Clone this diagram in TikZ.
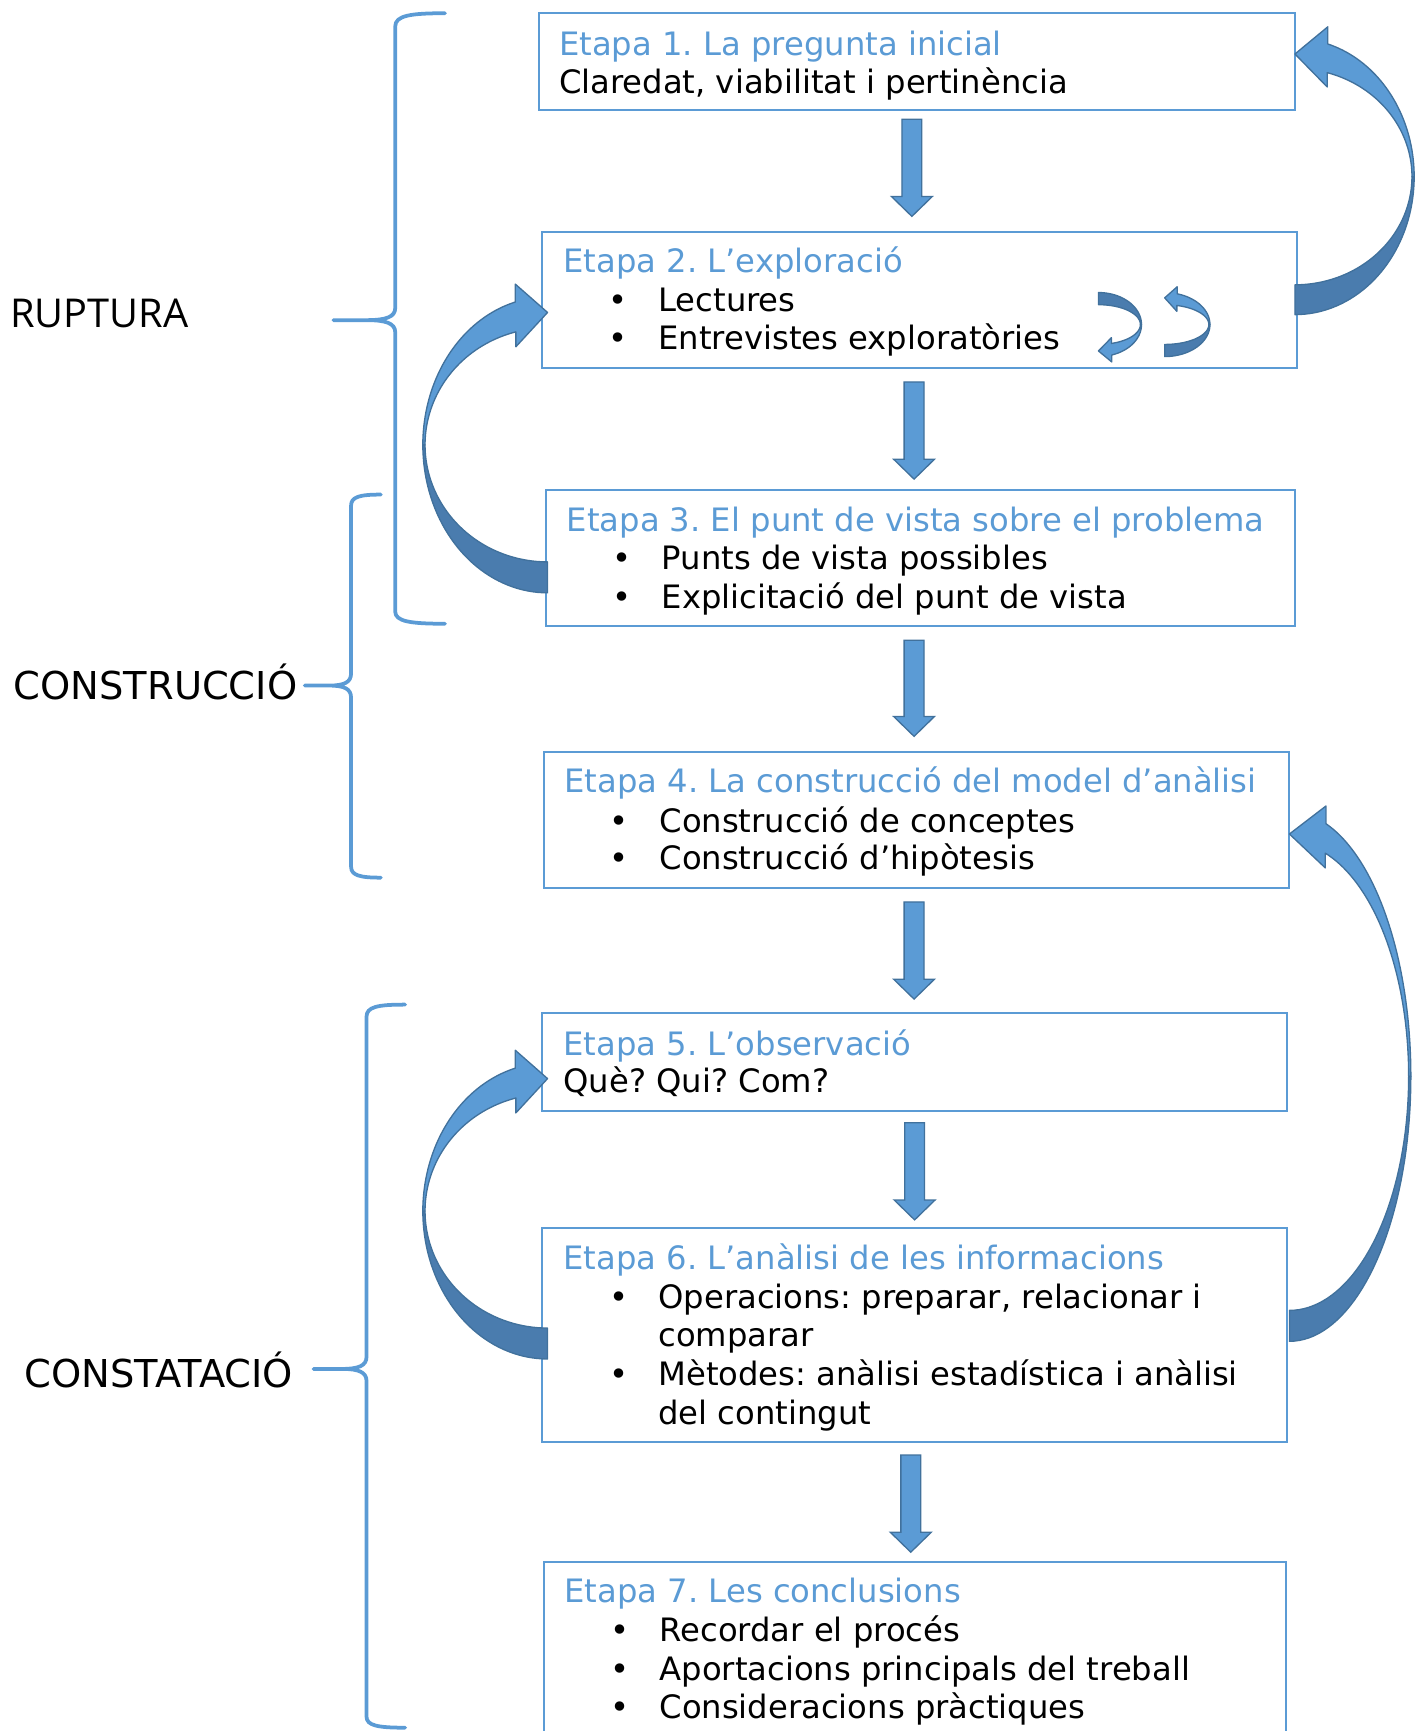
\documentclass[tikz,border=0pt]{standalone}
\usepackage{fontspec}
\setmainfont{DejaVu Sans}
\newfontfamily\labelfont{Open Sans}
\usetikzlibrary{calc}
\definecolor{accent}{HTML}{5B9BD5}
\definecolor{accentdark}{HTML}{41719C}
\definecolor{ribdark}{HTML}{4A7CAE}
\frenchspacing

\newcommand{\ribbonarrow}[9]{%
  \pgfmathsetmacro{\rCa}{cos(#9)}%
  \pgfmathsetmacro{\rSa}{sin(#9)}%
  \pgfmathsetmacro{\rPox}{#1+(#3)*(#5)*\rCa}%
  \pgfmathsetmacro{\rPoy}{#2-(#4)*(#6)*\rSa}%
  \pgfmathsetmacro{\rPix}{#1+(#3)*(#7)*\rCa}%
  \pgfmathsetmacro{\rPiy}{#2-(#4)*(#8)*\rSa}%
  \pgfmathsetmacro{\rBw}{abs(\rPiy-\rPoy)}%
  \pgfmathsetmacro{\rBoy}{\rPoy-(#4)*0.6*\rBw}%
  \pgfmathsetmacro{\rBiy}{\rPiy+(#4)*0.5*\rBw}%
  \pgfmathsetmacro{\rTy}{(\rPoy+\rPiy)/2-(#4)*0.15*\rBw}%
  \filldraw[ribbondark] plot[domain=90:0,samples=40,variable=\t] ({#1+(#3)*(#5)*cos(\t)},{#2+(#4)*(#6)*sin(\t)})
     -- plot[domain=0:90,samples=40,variable=\t] ({#1+(#3)*(#7)*cos(\t)},{#2+(#4)*(#8)*sin(\t)}) -- cycle;
  \filldraw[ribbonlight] plot[domain=0:-#9,samples=40,variable=\t] ({#1+(#3)*(#5)*cos(\t)},{#2+(#4)*(#6)*sin(\t)})
     -- (\rPox,\rBoy) -- (#1,\rTy) -- (\rPix,\rBiy)
     -- plot[domain=-#9:0,samples=40,variable=\t] ({#1+(#3)*(#7)*cos(\t)},{#2+(#4)*(#8)*sin(\t)}) -- cycle;
}

\newcommand{\downarr}[5]{% from node, to node, x offset, top gap, bottom gap
  \coordinate (top) at ($(#1.south)+(#3,#4)$);
  \coordinate (bot) at ($(top |- #2.north)+(0,-#5)$);
  \filldraw[blockarrow] ($(top)+(-9,0)$) -- ($(top)+(9,0)$) -- ($(bot)+(9,-18)$) -- ($(bot)+(18.5,-18)$)
     -- (bot) -- ($(bot)+(-18.5,-18)$) -- ($(bot)+(-9,-18)$) -- cycle;
}

\newcommand{\stage}[5]{%
  \node[stagebox, minimum width={(#4-#2)*0.5pt}, minimum height={(#5-#3)*0.5pt}] (#1) at ({(#2+#4)/2},{(#3+#5)/2}) {};
}

\begin{document}
\begin{tikzpicture}[x=0.5pt,y=-0.5pt,
  stagebox/.style={draw=accent, line width=0.9pt, rectangle, inner sep=0pt, outer sep=0pt},
  headtxt/.style={anchor=base west, inner sep=0pt, text=accent, font=\fontsize{14.6}{17.5}\selectfont},
  bodytxt/.style={anchor=base west, inner sep=0pt, text=black, font=\fontsize{14.6}{17.5}\selectfont},
  sidelabel/.style={anchor=base west, inner sep=0pt, text=black, font=\fontsize{17.4}{20}\selectfont},
  bracestyle/.style={draw=accent, line width=1.7pt, line join=round, line cap=round},
  blockarrow/.style={fill=accent, draw=accentdark, line width=0.6pt},
  ribbonlight/.style={fill=accent, draw=accentdark, line width=0.6pt, line join=round},
  ribbondark/.style={fill=ribdark, draw=accentdark, line width=0.6pt, line join=round}]
\useasboundingbox (0,0) rectangle (1288,1568);
\clip (0,0) rectangle (1288,1568);

% boxes
\stage{b1}{488}{12}{1173}{100}
\stage{b2}{491}{210}{1175}{333}
\stage{b3}{495}{444}{1173}{567}
\stage{b4}{493}{681}{1168}{804}
\stage{b5}{491}{918}{1166}{1006}
\stage{b6}{491}{1112}{1166}{1306}
\stage{b7}{493}{1415}{1165}{1610}

% texts
\node[headtxt] (h1) at (506,50) {Etapa 1. La pregunta inicial};
\node[bodytxt] (t1a) at (506,85) {Claredat, viabilitat i pertinència};

\node[headtxt] (h2) at (510,247) {Etapa 2. L’exploració};
\node[bodytxt] (p2a) at (551,282) {•};
\node[bodytxt] (t2a) at (596,282) {Lectures};
\node[bodytxt] (p2b) at (551,317) {•};
\node[bodytxt] (t2b) at (596,317) {Entrevistes exploratòries};

\node[headtxt] (h3) at (513,481) {Etapa 3. El punt de vista sobre el problema};
\node[bodytxt] (p3a) at (554,516) {•};
\node[bodytxt] (t3a) at (599,516) {Punts de vista possibles};
\node[bodytxt] (p3b) at (554,551) {•};
\node[bodytxt] (t3b) at (599,551) {Explicitació del punt de vista};

\node[headtxt] (h4) at (511,718) {Etapa 4. La construcció del model d’anàlisi};
\node[bodytxt] (p4a) at (552,754) {•};
\node[bodytxt] (t4a) at (597,754) {Construcció de conceptes};
\node[bodytxt] (p4b) at (552,788) {•};
\node[bodytxt] (t4b) at (597,788) {Construcció d’hipòtesis};

\node[headtxt] (h5) at (510,956) {Etapa 5. L’observació};
\node[bodytxt] (t5a) at (510,990) {Què? Qui? Com?};

\node[headtxt] (h6) at (510,1150) {Etapa 6. L’anàlisi de les informacions};
\node[bodytxt] (p6a) at (552,1185) {•};
\node[bodytxt] (t6a) at (596,1185) {Operacions: preparar, relacionar i};
\node[bodytxt] (t6b) at (596,1220) {comparar};
\node[bodytxt] (p6b) at (552,1255) {•};
\node[bodytxt] (t6c) at (596,1255) {Mètodes: anàlisi estadística i anàlisi};
\node[bodytxt] (t6d) at (596,1290) {del contingut};

\node[headtxt] (h7) at (511,1452) {Etapa 7. Les conclusions};
\node[bodytxt] (p7a) at (553,1487) {•};
\node[bodytxt] (t7a) at (597,1487) {Recordar el procés};
\node[bodytxt] (p7b) at (553,1522) {•};
\node[bodytxt] (t7b) at (597,1522) {Aportacions principals del treball};
\node[bodytxt] (p7c) at (553,1557) {•};
\node[bodytxt] (t7c) at (597,1557) {Consideracions pràctiques};

% side labels
\node[sidelabel, font=\labelfont\fontsize{18}{21}\selectfont] (lab1) at (9,297) {RUPTURA};
\node[sidelabel] (lab2) at (12,634) {CONSTRUCCIÓ};
\node[sidelabel] (lab3) at (22,1257) {CONSTATACIÓ};

% braces
\draw[bracestyle] (403,12) .. controls (372,12) and (358,14) .. (358,24) -- (358,279)
   .. controls (358,287) and (350,290) .. (332,290) -- (302,290)
   (332,290) .. controls (350,290) and (358,293) .. (358,301) -- (358,554)
   .. controls (358,563) and (372,565) .. (403,565);
\draw[bracestyle] (345,448) .. controls (326,448) and (318,450) .. (318,458) -- (318,610)
   .. controls (318,618) and (312,621) .. (298,621) -- (276,621)
   (298,621) .. controls (312,621) and (318,624) .. (318,632) -- (318,785)
   .. controls (318,793) and (326,795) .. (345,795);
\draw[bracestyle] (367,910) .. controls (342,910) and (332,912) .. (332,921) -- (332,1229)
   .. controls (332,1237) and (325,1240) .. (310,1240) -- (284,1240)
   (310,1240) .. controls (325,1240) and (332,1243) .. (332,1251) -- (332,1555)
   .. controls (332,1563) and (342,1565) .. (367,1565);

% straight arrows
\downarr{b1}{b2}{-4.5}{8}{14}
\downarr{b2}{b3}{-5}{13}{10}
\downarr{b3}{b4}{-6}{13}{14}
\downarr{b4}{b5}{-2.5}{13}{13}
\downarr{b5}{b6}{0}{11}{7}
\downarr{b6}{b7}{-3.5}{12}{9}

% curved arrows
\ribbonarrow{1173}{160}{1}{1}{108}{125}{106}{98}{74}
\ribbonarrow{496}{403}{-1}{1}{113}{134}{111}{106}{75}
\ribbonarrow{496}{1097}{-1}{1}{113}{134}{111}{106}{75}
\ribbonarrow{1168}{975}{1}{1}{110}{240}{108}{212}{72.5}
\ribbonarrow{995}{294}{1}{-1}{39}{29}{38}{18}{72}
\ribbonarrow{1055}{294}{1}{1}{41}{29}{40}{18}{74}
\end{tikzpicture}
\end{document}
